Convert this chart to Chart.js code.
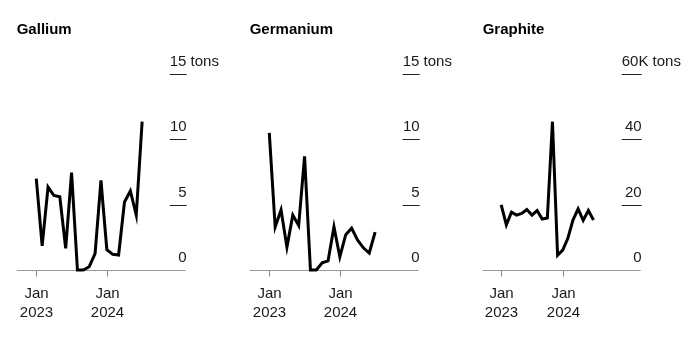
<!DOCTYPE html>
<html>
<head>
<meta charset="utf-8">
<script src="https://cdn.jsdelivr.net/npm/chart.js@4/dist/chart.umd.min.js"></script>
<style>
  html, body { margin: 0; padding: 0; background: #fff; }
  #wrap { position: relative; width: 700px; height: 356px; overflow: hidden; }
  canvas { position: absolute; top: 0; }
</style>
</head>
<body>
<div id="wrap">
  <canvas id="c1" width="233" height="356" style="left:0px"></canvas>
  <canvas id="c2" width="233" height="356" style="left:233px"></canvas>
  <canvas id="c3" width="234" height="356" style="left:466px"></canvas>
</div>
<script>
// ---- Data (monthly, Jan 2023 .. Jul 2024) ----
const months = ["2023-01","2023-02","2023-03","2023-04","2023-05","2023-06","2023-07","2023-08","2023-09","2023-10","2023-11","2023-12",
                "2024-01","2024-02","2024-03","2024-04","2024-05","2024-06","2024-07"];
const gallium   = [7.0, 1.85, 6.35, 5.7, 5.6, 1.65, 7.45, 0, 0, 0.25, 1.25, 6.85, 1.55, 1.2, 1.15, 5.2, 6.05, 4.2, 11.35];
const germanium = [10.5, 3.3, 4.6, 1.75, 4.2, 3.4, 8.7, 0, 0, 0.55, 0.7, 3.3, 1.0, 2.7, 3.2, 2.3, 1.7, 1.3, 2.9];
const graphite  = [19.9, 13.8, 17.7, 16.8, 17.3, 18.5, 16.8, 18.2, 15.6, 15.9, 45.4, 4.5, 6.1, 9.7, 15.3, 18.7, 15.2, 18.2, 15.3]; // thousand tons

const tonsTickValues = [0, 5, 10, 15];
const tonsTickLabels = ["0", "5", "10", "15 tons"];
const graphiteTickValues = [0, 20, 40, 60];
const graphiteTickLabels = ["0", "20", "40", "60K tons"];
const xTickMonths = ["2023-01", "2024-01"];
const xTickLabels = [["Jan", "2023"], ["Jan", "2024"]];
const titles = ["Gallium", "Germanium", "Graphite"];

const FONT = '"Liberation Sans", Arial, Helvetica, sans-serif';

const panelPlugin = {
  id: 'panel',
  beforeDatasetsDraw(chart, args, o) {
    const ctx = chart.ctx;
    const xs = chart.scales.x, ys = chart.scales.y;
    const ca = chart.chartArea;
    ctx.save();
    // title
    ctx.fillStyle = '#000';
    ctx.font = 'bold 15px ' + FONT;
    ctx.textAlign = 'left';
    ctx.textBaseline = 'alphabetic';
    ctx.fillText(o.title, ca.left, 34.3);
    // y gridlines + labels
    const gStart = ca.right - o.gridLen;
    o.yValues.forEach((v, i) => {
      const y = Math.round(ys.getPixelForValue(v)) + 0.5;
      if (v !== 0) {
        ctx.strokeStyle = '#222';
        ctx.lineWidth = 1;
        ctx.beginPath(); ctx.moveTo(gStart, y); ctx.lineTo(ca.right, y); ctx.stroke();
      }
      ctx.fillStyle = '#1a1a1a';
      ctx.font = '15px ' + FONT;
      if (i === o.yValues.length - 1) {
        ctx.textAlign = 'left';
        ctx.fillText(o.yLabels[i], gStart, y - 9);
      } else {
        ctx.textAlign = 'right';
        ctx.fillText(o.yLabels[i], ca.right, y - 9);
      }
    });
    // baseline (zero line)
    const y0 = Math.round(ys.getPixelForValue(0)) + 0.5;
    ctx.strokeStyle = '#999';
    ctx.lineWidth = 1;
    ctx.beginPath(); ctx.moveTo(ca.left, y0); ctx.lineTo(ca.right - 1, y0); ctx.stroke();
    // x ticks and labels
    o.xTicks.forEach((m, i) => {
      const x = Math.round(xs.getPixelForValue(months.indexOf(m))) + 0.5;
      ctx.strokeStyle = '#888';
      ctx.beginPath(); ctx.moveTo(x, y0); ctx.lineTo(x, y0 + 6); ctx.stroke();
      ctx.fillStyle = '#1a1a1a';
      ctx.font = '15px ' + FONT;
      ctx.textAlign = 'center';
      ctx.fillText(o.xLabels[i][0], x, 297.5);
      ctx.fillText(o.xLabels[i][1], x, 317);
    });
    ctx.restore();
  }
};

function makePanel(id, title, values, yMax, yValues, yLabels, area, xMin, xMax, gridLen) {
  const canvas = document.getElementById(id);
  const W = canvas.width, H = canvas.height;
  new Chart(canvas, {
    type: 'line',
    data: {
      datasets: [{
        data: values.map((v, i) => ({ x: i, y: v })),
        borderColor: '#000',
        borderWidth: 3,
        pointRadius: 0,
        tension: 0,
        fill: false,
        clip: false,
        borderJoinStyle: 'miter',
        borderCapStyle: 'butt'
      }]
    },
    options: {
      responsive: false,
      animation: false,
      devicePixelRatio: 1,
      layout: { padding: { left: area.left, right: W - area.right, top: area.top, bottom: H - area.bottom } },
      scales: {
        x: { type: 'linear', min: xMin, max: xMax, display: false },
        y: { type: 'linear', min: 0, max: yMax, display: false }
      },
      plugins: {
        legend: { display: false },
        tooltip: { enabled: false },
        panel: { title, yValues, yLabels, xTicks: xTickMonths, xLabels: xTickLabels, gridLen }
      }
    },
    plugins: [panelPlugin]
  });
}

// Gallium / Germanium: Jan 2023 at x=36.3, 5.88 px per month within each panel
makePanel('c1', titles[0], gallium, 15, tonsTickValues, tonsTickLabels,
  { left: 16.7, right: 186.7, top: 74, bottom: 270 }, -3.33, 25.58, 17);
makePanel('c2', titles[1], germanium, 15, tonsTickValues, tonsTickLabels,
  { left: 16.7, right: 186.7, top: 74, bottom: 270 }, -3.33, 25.58, 17);
// Graphite: Jan 2023 at x=35.2, 5.125 px per month
makePanel('c3', titles[2], graphite, 60, graphiteTickValues, graphiteTickLabels,
  { left: 16.7, right: 175.7, top: 74, bottom: 270 }, -3.61, 27.41, 20);
</script>
</body>
</html>
